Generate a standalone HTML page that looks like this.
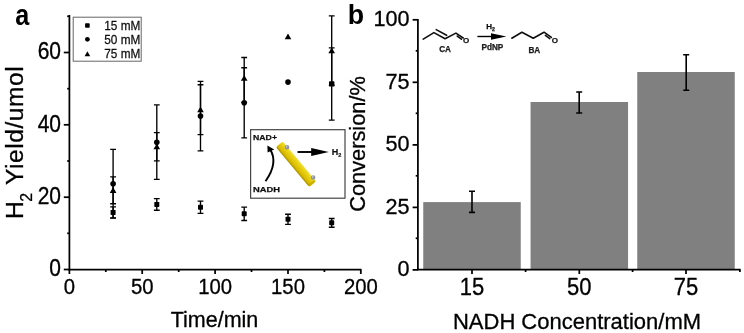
<!DOCTYPE html>
<html><head><meta charset="utf-8"><title>Figure</title>
<style>
html,body{margin:0;padding:0;background:#fff;}
body{width:744px;height:333px;overflow:hidden;font-family:"Liberation Sans",sans-serif;}
svg{display:block;font-family:"Liberation Sans",sans-serif;}
</style></head><body>
<svg width="744" height="333" viewBox="0 0 744 333">
<defs><filter id="bl" x="-5%" y="-5%" width="110%" height="110%"><feGaussianBlur stdDeviation="0.6"/></filter></defs>
<rect width="744" height="333" fill="#fff"/>
<g filter="url(#bl)">

<text transform="translate(15.2,24.5) scale(0.97,1.12)" font-size="26" font-weight="bold">a</text>
<text transform="translate(347.8,24) scale(1.03,1.08)" font-size="26" font-weight="bold">b</text>
<g stroke="#000" stroke-width="1.75" fill="none">
<path d="M69.4 14.9 V269.6 H361.5"/>
<path d="M63.8 269.5 H69.4"/>
<path d="M63.8 197.2 H69.4"/>
<path d="M63.8 124.8 H69.4"/>
<path d="M63.8 52.5 H69.4"/>
<path d="M67.2 233.3 H69.4"/>
<path d="M67.2 161.0 H69.4"/>
<path d="M67.2 88.7 H69.4"/>
<path d="M67.2 16.3 H69.4"/>
<path d="M69.4 269.6 V274"/>
<path d="M142.2 269.6 V274"/>
<path d="M215.1 269.6 V274"/>
<path d="M288.0 269.6 V274"/>
<path d="M360.8 269.6 V274"/>
<path d="M105.8 269.6 V272"/>
<path d="M178.7 269.6 V272"/>
<path d="M251.5 269.6 V272"/>
<path d="M324.4 269.6 V272"/>
</g>
<text transform="translate(61,276.3) scale(1,1.11)" font-size="21" stroke="#000" stroke-width="0.3" text-anchor="end">0</text>
<text transform="translate(61,204.0) scale(1,1.11)" font-size="21" stroke="#000" stroke-width="0.3" text-anchor="end">20</text>
<text transform="translate(61,131.6) scale(1,1.11)" font-size="21" stroke="#000" stroke-width="0.3" text-anchor="end">40</text>
<text transform="translate(61,59.3) scale(1,1.11)" font-size="21" stroke="#000" stroke-width="0.3" text-anchor="end">60</text>
<text transform="translate(69.4,293.5) scale(1,1.12)" font-size="20.3" stroke="#000" stroke-width="0.3" text-anchor="middle">0</text>
<text transform="translate(142.2,293.5) scale(1,1.12)" font-size="20.3" stroke="#000" stroke-width="0.3" text-anchor="middle">50</text>
<text transform="translate(215.1,293.5) scale(1,1.12)" font-size="20.3" stroke="#000" stroke-width="0.3" text-anchor="middle">100</text>
<text transform="translate(288.0,293.5) scale(1,1.12)" font-size="20.3" stroke="#000" stroke-width="0.3" text-anchor="middle">150</text>
<text transform="translate(360.8,293.5) scale(1,1.12)" font-size="20.3" stroke="#000" stroke-width="0.3" text-anchor="middle">200</text>
<text x="214.5" y="327.4" font-size="21.5" stroke="#000" stroke-width="0.3" text-anchor="middle">Time/min</text>
<text transform="translate(23.2,219) rotate(-90)" font-size="24.6" letter-spacing="0.52" stroke="#000" stroke-width="0.3">H<tspan font-size="16" dy="9" dx="-1">2</tspan><tspan dy="-9" dx="0.4"> Yield/umol</tspan></text>
<rect x="73.2" y="17.2" width="68.0" height="44.0" fill="#fff" stroke="#666" stroke-width="1"/>
<rect x="85.1" y="23.2" width="4.6" height="4.6" rx="0.7" fill="#000"/>
<circle cx="87.4" cy="39.3" r="2.4" fill="#000"/>
<path d="M87.4 51.2 L90.2 56.2 H84.6 Z" fill="#000"/>
<text transform="translate(104.3,29.7) scale(1,1.13)" font-size="11.8" fill="#111" stroke="#111" stroke-width="0.25">15 mM</text>
<text transform="translate(104.3,43.8) scale(1,1.13)" font-size="11.8" fill="#111" stroke="#111" stroke-width="0.25">50 mM</text>
<text transform="translate(104.3,58) scale(1,1.13)" font-size="11.8" fill="#111" stroke="#111" stroke-width="0.25">75 mM</text>
<path d="M113.1 206.9 V217.8 M110.2 206.9 h5.8 M110.2 217.8 h5.8" stroke="#000" stroke-width="1.35" fill="none"/>
<rect x="110.6" y="209.9" width="5.0" height="5.0" rx="0.7" fill="#000"/>
<path d="M156.8 198.6 V210.2 M153.9 198.6 h5.8 M153.9 210.2 h5.8" stroke="#000" stroke-width="1.35" fill="none"/>
<rect x="154.3" y="201.9" width="5.0" height="5.0" rx="0.7" fill="#000"/>
<path d="M200.5 201.1 V213.4 M197.6 201.1 h5.8 M197.6 213.4 h5.8" stroke="#000" stroke-width="1.35" fill="none"/>
<rect x="198.0" y="204.8" width="5.0" height="5.0" rx="0.7" fill="#000"/>
<path d="M244.2 207.1 V220.5 M241.3 207.1 h5.8 M241.3 220.5 h5.8" stroke="#000" stroke-width="1.35" fill="none"/>
<rect x="241.7" y="211.3" width="5.0" height="5.0" rx="0.7" fill="#000"/>
<path d="M288.0 214.2 V224.3 M285.1 214.2 h5.8 M285.1 224.3 h5.8" stroke="#000" stroke-width="1.35" fill="none"/>
<rect x="285.5" y="216.7" width="5.0" height="5.0" rx="0.7" fill="#000"/>
<path d="M331.7 218.5 V227.2 M328.8 218.5 h5.8 M328.8 227.2 h5.8" stroke="#000" stroke-width="1.35" fill="none"/>
<rect x="329.2" y="220.3" width="5.0" height="5.0" rx="0.7" fill="#000"/>
<path d="M113.1 149.4 V218.1 M110.2 149.4 h5.8 M110.2 218.1 h5.8" stroke="#000" stroke-width="1.35" fill="none"/>
<circle cx="113.1" cy="183.8" r="2.8" fill="#000"/>
<path d="M156.8 104.9 V179.4 M153.9 104.9 h5.8 M153.9 179.4 h5.8" stroke="#000" stroke-width="1.35" fill="none"/>
<circle cx="156.8" cy="142.2" r="2.8" fill="#000"/>
<path d="M200.5 81.4 V150.9 M197.6 81.4 h5.8 M197.6 150.9 h5.8" stroke="#000" stroke-width="1.35" fill="none"/>
<circle cx="200.5" cy="116.1" r="2.8" fill="#000"/>
<path d="M244.2 67.7 V137.8 M241.3 67.7 h5.8 M241.3 137.8 h5.8" stroke="#000" stroke-width="1.35" fill="none"/>
<circle cx="244.2" cy="102.8" r="2.8" fill="#000"/>
<circle cx="288.0" cy="82.1" r="2.8" fill="#000"/>
<path d="M113.1 176.9 V203.7 M110.2 176.9 h5.8 M110.2 203.7 h5.8" stroke="#000" stroke-width="1.35" fill="none"/>
<path d="M113.1 187.1 L116.4 192.9 H109.8 Z" fill="#000"/>
<path d="M156.8 132.6 V160.8 M153.9 132.6 h5.8 M153.9 160.8 h5.8" stroke="#000" stroke-width="1.35" fill="none"/>
<path d="M156.8 143.5 L160.1 149.3 H153.5 Z" fill="#000"/>
<path d="M200.5 84.7 V134.6 M197.6 84.7 h5.8 M197.6 134.6 h5.8" stroke="#000" stroke-width="1.35" fill="none"/>
<path d="M200.5 106.4 L203.8 112.2 H197.2 Z" fill="#000"/>
<path d="M244.2 57.5 V102.4 M241.3 57.5 h5.8 M241.3 102.4 h5.8" stroke="#000" stroke-width="1.35" fill="none"/>
<path d="M244.2 75.0 L247.5 80.8 H240.9 Z" fill="#000"/>
<path d="M288.0 33.4 L291.3 39.2 H284.7 Z" fill="#000"/>
<path d="M331.7 15.9 V85.4 M328.8 15.9 h5.8 M328.8 85.4 h5.8" stroke="#000" stroke-width="1.35" fill="none"/>
<path d="M331.7 47.5 L335.0 53.3 H328.4 Z" fill="#000"/>
<path d="M331.7 47.8 V120.1 M328.8 47.8 h5.8 M328.8 120.1 h5.8" stroke="#000" stroke-width="1.35" fill="none"/>
<rect x="329.0" y="81.2" width="5.4" height="5.4" rx="0.7" fill="#000"/>
<rect x="250.6" y="129.7" width="94.4" height="68.5" fill="#fff" stroke="#444" stroke-width="1.2"/>
<text x="253" y="140.2" font-size="7.8" font-weight="bold" fill="#111" stroke="#111" stroke-width="0.25" textLength="24" lengthAdjust="spacingAndGlyphs">NAD+</text>
<text x="253" y="191.6" font-size="7.8" font-weight="bold" fill="#111" stroke="#111" stroke-width="0.25" textLength="27" lengthAdjust="spacingAndGlyphs">NADH</text>
<path d="M265.5 181.2 Q278.5 163 270.2 149.5" stroke="#000" stroke-width="1.9" fill="none"/>
<path d="M267.4 145.6 L274.2 149.4 L267.6 152.6 Z" fill="#000"/>
<defs><linearGradient id="rg" x1="0" y1="0" x2="0" y2="1"><stop offset="0" stop-color="#f2e030"/><stop offset="0.35" stop-color="#e8cf10"/><stop offset="0.75" stop-color="#d8ba00"/><stop offset="1" stop-color="#a89000"/></linearGradient></defs>
<g transform="translate(295.9,164.05) rotate(50.1)">
<rect x="-25.9" y="-4.5" width="51.8" height="9" rx="1.8" fill="url(#rg)"/>
<ellipse cx="24.9" cy="0" rx="1.3" ry="4.3" fill="#c4aa00" opacity="0.8"/>
</g>
<circle cx="287" cy="147.2" r="2.3" fill="#9095a4"/><circle cx="286.6" cy="146.7" r="0.7" fill="#d8dae4"/>
<circle cx="313.1" cy="177.5" r="2.3" fill="#9095a4"/><circle cx="312.7" cy="177" r="0.7" fill="#d8dae4"/>
<path d="M297.5 152 H314" stroke="#000" stroke-width="1.9"/>
<path d="M311.2 148.1 L328.8 152 L311.2 155.9 Z" fill="#000"/>
<text x="331.8" y="155.2" font-size="9" font-weight="bold" fill="#111" stroke="#111" stroke-width="0.2">H<tspan font-size="5.6" dy="1.6">2</tspan></text>
<rect x="423.25" y="202.1" width="97.5" height="67.5" fill="#808080"/>
<rect x="530.55" y="102.0" width="97.5" height="167.6" fill="#808080"/>
<rect x="637.25" y="72.0" width="97.5" height="197.6" fill="#808080"/>
<g stroke="#000" stroke-width="1.75" fill="none">
<path d="M417.9 19.0 V269.6 H740.6"/>
<path d="M412.6 269.9 H417.9"/>
<path d="M412.6 207.4 H417.9"/>
<path d="M412.6 144.9 H417.9"/>
<path d="M412.6 82.3 H417.9"/>
<path d="M412.6 19.8 H417.9"/>
<path d="M415.7 238.3 H417.9"/>
<path d="M415.7 175.8 H417.9"/>
<path d="M415.7 113.3 H417.9"/>
<path d="M415.7 50.8 H417.9"/>
<path d="M472 269.6 V274"/>
<path d="M579.3 269.6 V274"/>
<path d="M686 269.6 V274"/>
<path d="M525.6 269.6 V272"/>
<path d="M632.6 269.6 V272"/>
<path d="M739.9 269.6 V272"/>
</g>
<text transform="translate(409.6,276.4) scale(1.02,1.08)" font-size="21.2" stroke="#000" stroke-width="0.3" text-anchor="end">0</text>
<text transform="translate(409.6,213.9) scale(1.02,1.08)" font-size="21.2" stroke="#000" stroke-width="0.3" text-anchor="end">25</text>
<text transform="translate(409.6,151.4) scale(1.02,1.08)" font-size="21.2" stroke="#000" stroke-width="0.3" text-anchor="end">50</text>
<text transform="translate(409.6,88.8) scale(1.02,1.08)" font-size="21.2" stroke="#000" stroke-width="0.3" text-anchor="end">75</text>
<text transform="translate(409.6,26.3) scale(1.02,1.08)" font-size="21.2" stroke="#000" stroke-width="0.3" text-anchor="end">100</text>
<text transform="translate(472,294.6) scale(1,1.08)" font-size="22" text-anchor="middle" stroke="#000" stroke-width="0.3">15</text>
<text transform="translate(579.3,294.6) scale(1,1.08)" font-size="22" text-anchor="middle" stroke="#000" stroke-width="0.3">50</text>
<text transform="translate(686,294.6) scale(1,1.08)" font-size="22" text-anchor="middle" stroke="#000" stroke-width="0.3">75</text>
<text transform="translate(577,329.3) scale(1,1.04)" font-size="22" text-anchor="middle" stroke="#000" stroke-width="0.3">NADH Concentration/mM</text>
<text transform="translate(365,211.8) rotate(-90)" font-size="21.8" stroke="#000" stroke-width="0.3">Conversion/%</text>
<path d="M472.0 191.3 V212.4 M469.0 191.3 h6 M469.0 212.4 h6" stroke="#000" stroke-width="1.6" fill="none"/>
<path d="M579.2 92.0 V113.0 M576.2 92.0 h6 M576.2 113.0 h6" stroke="#000" stroke-width="1.6" fill="none"/>
<path d="M686.2 54.7 V90.2 M683.2 54.7 h6 M683.2 90.2 h6" stroke="#000" stroke-width="1.6" fill="none"/>
<g stroke="#111" stroke-width="1.6" fill="none" stroke-linecap="round" stroke-linejoin="round">
<path d="M423.2 39.1 L433.9 32.6 L445.1 38.7 L455.9 33.1 L463.2 38"/>
<path d="M436.2 29.6 L446.6 35.3"/>
<path d="M457.2 36.2 L461.4 39.2"/>
<path d="M511.8 38.2 L521.9 32.2 L533.3 38.2 L544 32.2 L551.4 37.4"/>
<path d="M545.4 35.4 L549.8 38.6"/>
</g>
<text x="466.2" y="43.1" font-size="8" font-weight="bold" text-anchor="middle" fill="#111" stroke="#111" stroke-width="0.25">O</text>
<text x="554.8" y="42.5" font-size="8" font-weight="bold" text-anchor="middle" fill="#111" stroke="#111" stroke-width="0.25">O</text>
<text x="445.1" y="52" font-size="8.2" font-weight="bold" text-anchor="middle" fill="#222" stroke="#111" stroke-width="0.25">CA</text>
<text x="534.3" y="52.7" font-size="8.2" font-weight="bold" text-anchor="middle" fill="#222" stroke="#111" stroke-width="0.25">BA</text>
<path d="M477.4 36.5 H494" stroke="#000" stroke-width="1.4"/>
<path d="M491 33.3 L506.4 36.5 L491 39.7 Z" fill="#000"/>
<text x="486.2" y="29" font-size="8" font-weight="bold" fill="#111" stroke="#111" stroke-width="0.25">H<tspan font-size="5.2" dy="1.6">2</tspan></text>
<text x="492.4" y="50.2" font-size="8.2" font-weight="bold" text-anchor="middle" fill="#222" stroke="#111" stroke-width="0.25">PdNP</text>
</g></svg></body></html>
